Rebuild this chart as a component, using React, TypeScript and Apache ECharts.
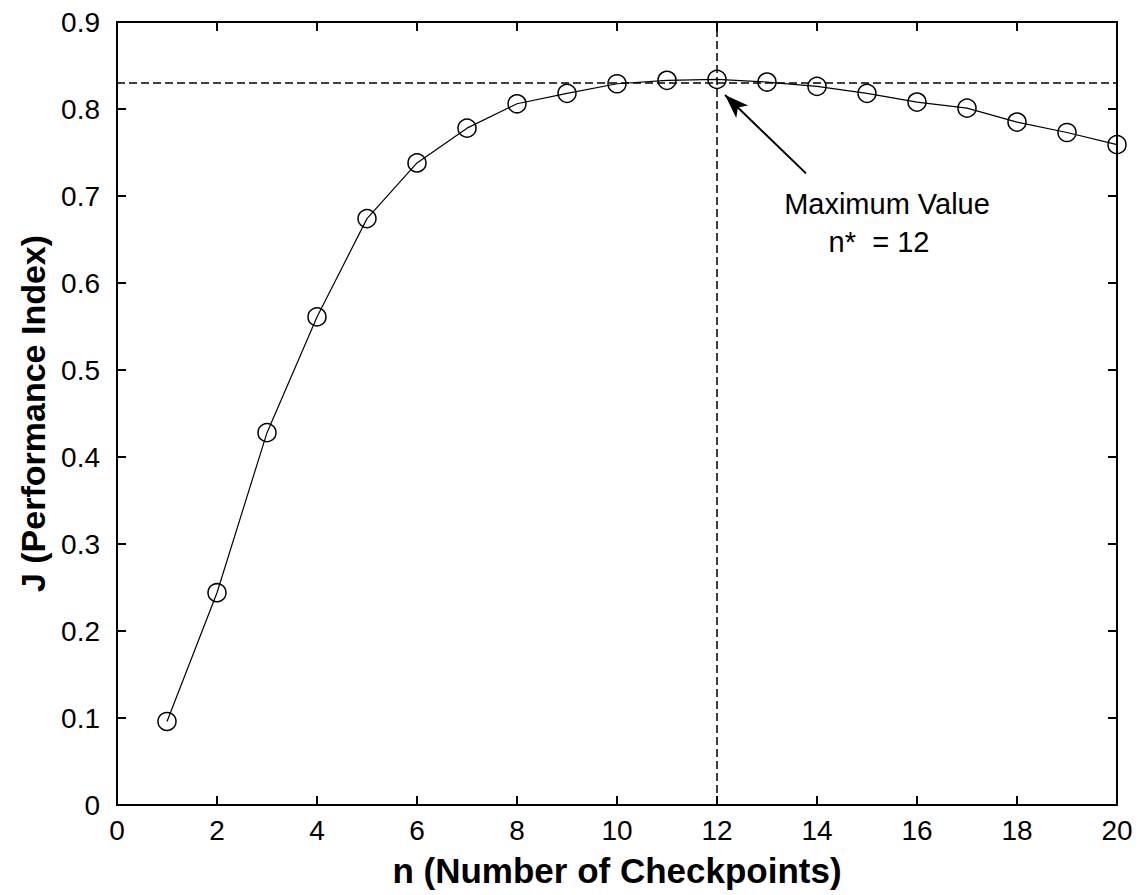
import React, { useEffect, useRef } from "react";
import * as echarts from "echarts";

// n values (number of checkpoints)
const nValues = [1, 2, 3, 4, 5, 6, 7, 8, 9, 10, 11, 12, 13, 14, 15, 16, 17, 18, 19, 20];
// J (performance index)
const jValues = [0.096, 0.244, 0.428, 0.561, 0.674, 0.738, 0.778, 0.806, 0.818, 0.829, 0.833, 0.834, 0.831, 0.826, 0.818, 0.808, 0.801, 0.785, 0.773, 0.759];

const optimumN = 12;
const xTitle = "n (Number of Checkpoints)";
const yTitle = "J (Performance Index)";
const noteLine1 = "Maximum Value";
const noteLine2 = "n*  = 12";

const tickFont = "'Liberation Sans Narrow', 'Liberation Sans', Arial, sans-serif";
const titleFont = "'Liberation Sans', Arial, sans-serif";

export default function App() {
  const ref = useRef<HTMLDivElement>(null);
  useEffect(() => {
    if (!ref.current) return;
    const chart = echarts.init(ref.current, null, { renderer: "svg" });
    const axisLine = { show: true, onZero: false, lineStyle: { color: "#000", width: 2 } };
    const axisTick = { show: true, inside: true, length: 9, lineStyle: { color: "#000", width: 2 } };
    const dashed = { color: "#000", width: 1.5, type: [8, 4] as any };
    chart.setOption({
      animation: false,
      backgroundColor: "#fff",
      grid: { left: 117, right: 29, top: 22, bottom: 90, containLabel: false },
      xAxis: [
        {
          type: "value",
          min: 0,
          max: 20,
          interval: 2,
          position: "bottom",
          axisLine,
          axisTick,
          splitLine: { show: false },
          axisLabel: { color: "#000", fontFamily: tickFont, fontSize: 28, margin: 11 },
          name: xTitle,
          nameLocation: "middle",
          nameGap: 48,
          nameTextStyle: { color: "#000", fontFamily: titleFont, fontWeight: "bold", fontSize: 35 },
        },
        {
          type: "value",
          min: 0,
          max: 20,
          interval: 2,
          position: "top",
          axisLine,
          axisTick,
          splitLine: { show: false },
          axisLabel: { show: false },
        },
      ],
      yAxis: [
        {
          type: "value",
          min: 0,
          max: 0.9,
          interval: 0.1,
          position: "left",
          axisLine,
          axisTick,
          splitLine: { show: false },
          axisLabel: { color: "#000", fontFamily: tickFont, fontSize: 28, margin: 17 },
          name: yTitle,
          nameLocation: "middle",
          nameGap: 59,
          nameTextStyle: { color: "#000", fontFamily: titleFont, fontWeight: "bold", fontSize: 34 },
        },
        {
          type: "value",
          min: 0,
          max: 0.9,
          interval: 0.1,
          position: "right",
          axisLine,
          axisTick,
          splitLine: { show: false },
          axisLabel: { show: false },
        },
      ],
      series: [
        {
          type: "line",
          xAxisIndex: 0,
          yAxisIndex: 0,
          data: nValues.map((n, i) => [n, jValues[i]]),
          symbol: "circle",
          symbolSize: 18,
          showSymbol: true,
          itemStyle: { color: "rgba(255,255,255,0)", borderColor: "#000", borderWidth: 1.5 },
          lineStyle: { color: "#000", width: 1.2 },
          z: 3,
          markLine: {
            silent: true,
            symbol: ["none", "none"],
            label: { show: false },
            lineStyle: dashed,
            data: [
              { type: "max", valueDim: "y" },
              [{ coord: [optimumN, 0] }, { coord: [optimumN, 0.9] }],
              [
                { coord: [13.78, 0.726], symbol: "none" },
                {
                  coord: [12.16, 0.816],
                  symbol: "arrow",
                  symbolSize: [13, 24],
                  lineStyle: { type: "solid", width: 2, color: "#000" },
                },
              ],
            ],
          },
          markPoint: {
            silent: true,
            symbol: "circle",
            symbolSize: 0,
            itemStyle: { color: "rgba(0,0,0,0)", borderWidth: 0 },
            label: {
              show: true,
              position: "inside",
              color: "#000",
              fontFamily: titleFont,
              fontSize: 29,
            },
            data: [
              { coord: [15.4, 0.691], value: 0, label: { formatter: noteLine1 } },
              { coord: [15.24, 0.647], value: 0, label: { formatter: noteLine2 } },
            ],
          },
        },
      ],
    });
    return () => chart.dispose();
  }, []);
  return (
    <div
      ref={ref}
      style={{ position: "fixed", left: 0, top: 0, width: 1146, height: 895, background: "#fff" }}
    />
  );
}
